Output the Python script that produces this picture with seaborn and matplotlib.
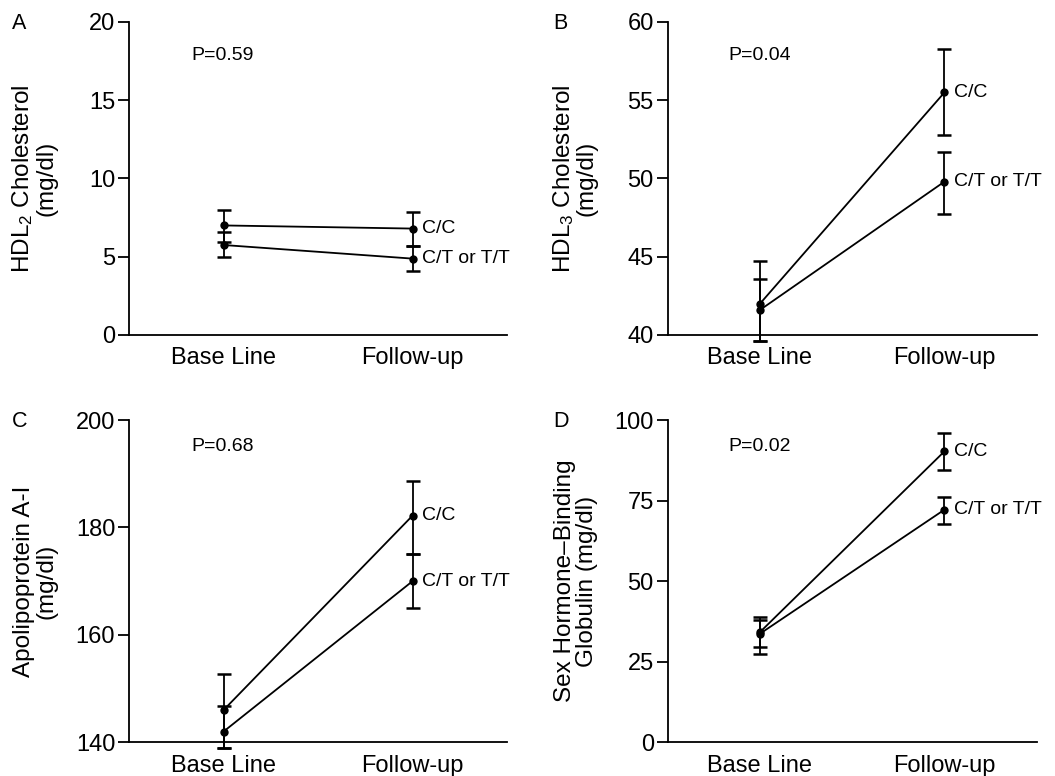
import matplotlib
matplotlib.use("Agg")
import matplotlib.pyplot as plt
import seaborn as sns
import pandas as pd

# ---------------------------------------------------------
# DATA
# ---------------------------------------------------------
visits = ["Base Line", "Follow-up"]
groups = ["C/C", "C/T or T/T"]

# A: HDL2 cholesterol
hdl2_cc = [7.0, 6.8]
hdl2_cc_lo = [5.95, 5.7]
hdl2_cc_hi = [8.0, 7.85]
hdl2_ct = [5.75, 4.88]
hdl2_ct_lo = [5.0, 4.08]
hdl2_ct_hi = [6.6, 5.7]

# B: HDL3 cholesterol
hdl3_cc = [42.0, 55.5]
hdl3_cc_lo = [39.6, 52.8]
hdl3_cc_hi = [44.7, 58.25]
hdl3_ct = [41.6, 49.8]
hdl3_ct_lo = [39.6, 47.7]
hdl3_ct_hi = [43.6, 51.7]

# C: apolipoprotein A-I
apoa_cc = [146.0, 182.2]
apoa_cc_lo = [139.0, 175.0]
apoa_cc_hi = [152.7, 188.6]
apoa_ct = [142.0, 170.0]
apoa_ct_lo = [139.0, 165.0]
apoa_ct_hi = [146.8, 175.0]

# D: sex hormone-binding globulin
shbg_cc = [34.2, 90.3]
shbg_cc_lo = [29.5, 84.5]
shbg_cc_hi = [38.9, 95.9]
shbg_ct = [33.7, 72.2]
shbg_ct_lo = [27.3, 67.7]
shbg_ct_hi = [38.0, 76.0]

# ---------------------------------------------------------
# STYLE
# ---------------------------------------------------------
sns.set_theme(style="ticks")
plt.rcParams['font.family'] = ['Liberation Sans', 'DejaVu Sans']
plt.rcParams['axes.edgecolor'] = 'black'
plt.rcParams['text.color'] = 'black'
plt.rcParams['axes.labelcolor'] = 'black'
plt.rcParams['xtick.color'] = 'black'
plt.rcParams['ytick.color'] = 'black'
plt.rcParams['mathtext.fontset'] = 'custom'
plt.rcParams['mathtext.rm'] = 'Liberation Sans'
plt.rcParams['mathtext.it'] = 'Liberation Sans'

LW = 1.3
fig = plt.figure(figsize=(10.55, 7.76), dpi=100)


def draw_panel(rect, letter, ylabel, ptext, p_y, ylim, yticks,
               cc, cc_lo, cc_hi, ct, ct_lo, ct_hi):
    ax = fig.add_axes(rect)
    df = pd.DataFrame({
        'visit': visits * 2,
        'value': cc + ct,
        'group': [groups[0]] * 2 + [groups[1]] * 2,
    })
    sns.lineplot(data=df, x='visit', y='value', hue='group',
                 palette=['black', 'black'], marker='o', markersize=6,
                 markeredgewidth=0, linewidth=LW, legend=False, sort=False,
                 errorbar=None, ax=ax)
    for vals, lo, hi in [(cc, cc_lo, cc_hi), (ct, ct_lo, ct_hi)]:
        err = [[v - l for v, l in zip(vals, lo)], [h - v for v, h in zip(vals, hi)]]
        cont = ax.errorbar(visits, vals, yerr=err, fmt='none', ecolor='black',
                           elinewidth=LW, capsize=5, capthick=1.8)
        for art in cont.get_children():
            art.set_clip_on(False)
    for art in ax.lines:
        art.set_clip_on(False)

    # group labels next to follow-up points
    ax.annotate(groups[0], (visits[1], cc[1]), xytext=(7, 0),
                textcoords='offset points', va='center', ha='left', fontsize=14)
    ax.annotate(groups[1], (visits[1], ct[1]), xytext=(7, 0),
                textcoords='offset points', va='center', ha='left', fontsize=14)

    ax.set_xlim(-0.5, 1.5)
    ax.set_ylim(*ylim)
    ax.set_yticks(yticks)
    ax.set_xlabel('')
    ax.set_ylabel(ylabel, fontsize=17.5, linespacing=1.0)
    ax.yaxis.set_label_coords(-0.19, 0.5)

    sns.despine(ax=ax)
    ax.spines['left'].set_linewidth(LW)
    ax.spines['bottom'].set_linewidth(LW)
    ax.tick_params(axis='y', direction='out', length=8, width=LW,
                   labelsize=17, pad=2)
    ax.tick_params(axis='x', length=0, labelsize=17, pad=9)

    ax.text(0.165, p_y, ptext, transform=ax.transAxes, fontsize=14,
            ha='left', va='center')
    ax.text(-0.31, 0.995, letter, transform=ax.transAxes, fontsize=15.5,
            ha='left', va='center')
    return ax


draw_panel([0.1223, 0.5683, 0.3583, 0.4034], 'A', 'HDL$_2$ Cholesterol\n(mg/dl)',
           'P=0.59', 0.892, (0, 20), [0, 5, 10, 15, 20],
           hdl2_cc, hdl2_cc_lo, hdl2_cc_hi, hdl2_ct, hdl2_ct_lo, hdl2_ct_hi)
draw_panel([0.6329, 0.5683, 0.3498, 0.4034], 'B', 'HDL$_3$ Cholesterol\n(mg/dl)',
           'P=0.04', 0.892, (40, 60), [40, 45, 50, 55, 60],
           hdl3_cc, hdl3_cc_lo, hdl3_cc_hi, hdl3_ct, hdl3_ct_lo, hdl3_ct_hi)
draw_panel([0.1223, 0.0434, 0.3583, 0.4153], 'C', 'Apolipoprotein A-I\n(mg/dl)',
           'P=0.68', 0.917, (140, 200), [140, 160, 180, 200],
           apoa_cc, apoa_cc_lo, apoa_cc_hi, apoa_ct, apoa_ct_lo, apoa_ct_hi)
draw_panel([0.6329, 0.0434, 0.3498, 0.4153], 'D',
           'Sex Hormone\u2013Binding\nGlobulin (mg/dl)', 'P=0.02', 0.917,
           (0, 100), [0, 25, 50, 75, 100],
           shbg_cc, shbg_cc_lo, shbg_cc_hi, shbg_ct, shbg_ct_lo, shbg_ct_hi)

fig.savefig('out.png', dpi=100)
